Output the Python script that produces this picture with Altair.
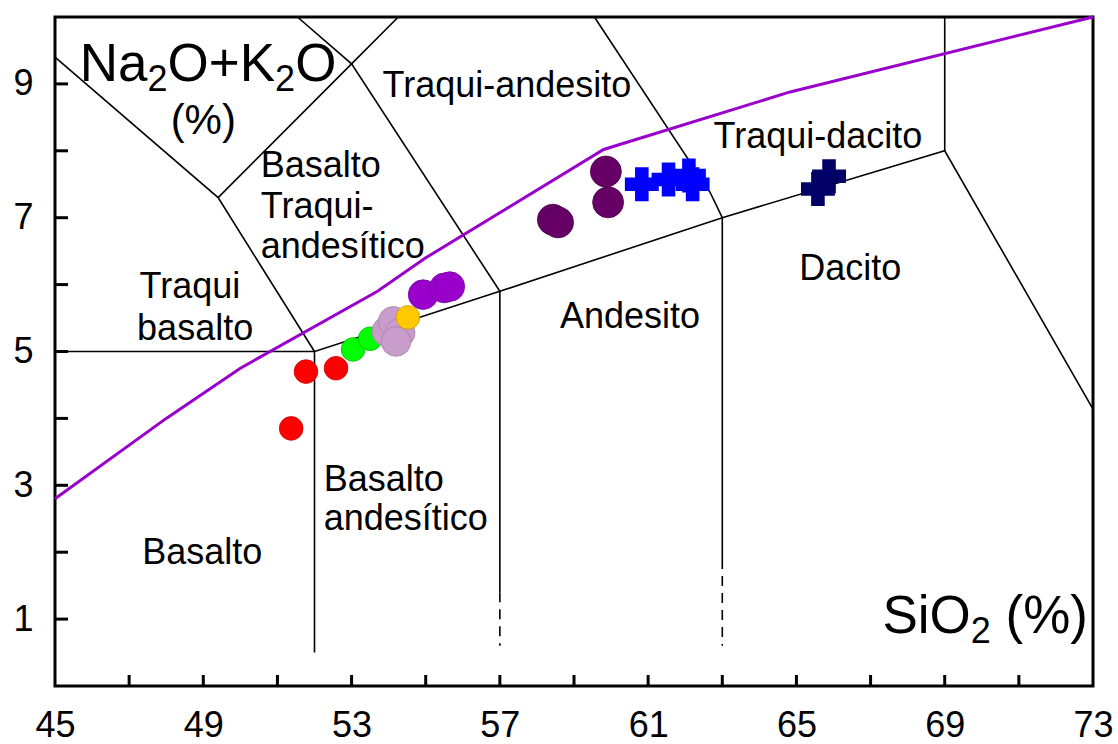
import altair as alt
import pandas as pd

FONT = "Liberation Sans"
W, H = 1038, 669

# ---------------- field boundaries (SiO2 %, Na2O+K2O %) ----------------
b_basalt_top = [(45, 5.0), (52, 5.0)]
b_main_lower = [(52, 0.5), (52, 5.0), (57, 5.9), (63, 7.0), (69, 8.0), (73, 4.14)]
b_57_solid = [(57, 5.9), (57, 1.4)]
b_63_solid = [(63, 7.0), (63, 1.9)]
b_69 = [(69, 8.0), (69, 10.0)]
b_tephrite = [(45, 9.4), (49.4, 7.3), (52, 5.0)]
b_bta_left = [(49.4, 7.3), (53, 9.3), (54.26, 10.0)]
b_ta_left = [(51.54, 10.0), (53, 9.3), (57, 5.9)]
b_td_left = [(59.55, 10.0), (62.67, 7.38), (63, 7.0)]
d_57 = [(57, 1.4), (57, 0.6)]
d_63 = [(63, 1.9), (63, 0.6)]

# alkaline / subalkaline divider
alk_x = [45, 48, 50, 53.7, 55, 59.8, 64.83, 73]
alk_y = [2.8, 4.0, 4.75, 5.9, 6.4, 8.02, 8.88, 10.0]

# ---------------- samples ----------------
red_x = [51.37, 51.77, 52.58]
red_y = [3.85, 4.70, 4.75]
green_x = [53.04, 53.50]
green_y = [5.03, 5.19]
lilac_x = [53.95, 54.12, 54.31, 54.20]
lilac_y = [5.30, 5.45, 5.28, 5.15]
gold_x = [54.52]
gold_y = [5.51]
violet_x = [54.93, 55.50, 55.65]
violet_y = [5.85, 5.95, 5.97]
plum_x = [58.43, 58.57, 59.86, 59.92]
plum_y = [6.97, 6.93, 7.69, 7.23]
blue_x = [60.83, 61.55, 62.10, 62.20]
blue_y = [7.50, 7.57, 7.63, 7.50]
navy_x = [65.58, 65.88]
navy_y = [7.43, 7.62]

# ---------------- labels ----------------
c_text = ["Traqui-andesito", "Traqui", "basalto", "Traqui-dacito", "Dacito", "Andesito", "Basalto"]
c_x = [57.19, 48.64, 48.78, 65.58, 66.45, 60.51, 48.97]
c_y = [8.97, 5.96, 5.33, 8.20, 6.23, 5.51, 1.99]
l_text = ["Basalto", "Traqui-", "andesítico", "Basalto", "andesítico"]
l_x = [50.55, 50.55, 50.55, 52.25, 52.25]
l_y = [7.78, 7.16, 6.56, 3.08, 2.49]

# axis titles, split into normal and subscript pieces (gap = leading space before the piece)
ytitle_parts = ["Na", "2", "O+K", "2", "O"]
ytitle_gaps = [0, 0, 0, 0, 0]
xtitle_parts = ["SiO", "2", "(%)"]
xtitle_gaps = [0, 0, 1]
ytitle_x, ytitle_y = 45.67, 9.04
ypct_x, ypct_y = 49.0, 8.25
xtitle_x, xtitle_y = 67.32, 0.79

x_tick_labels = [45, 49, 53, 57, 61, 65, 69, 73]
y_tick_labels = [1, 3, 5, 7, 9]
x_minor = list(range(47, 73, 2))
y_minor = list(range(1, 10))

xs = alt.Scale(domain=[45, 73], nice=False, zero=False)
ys = alt.Scale(domain=[0, 10], nice=False, zero=False)


def poly_df(polys):
    rows = []
    for k, p in enumerate(polys):
        for i, (x, y) in enumerate(p):
            rows.append({"id": k, "i": i, "x": x, "y": y})
    return pd.DataFrame(rows)


X = alt.X("x:Q", scale=xs, axis=alt.Axis(values=x_tick_labels, title=None, grid=False, domain=False,
                                           tickSize=0, labelFontSize=36, labelFont=FONT, labelColor="black",
                                           labelPadding=22, labelFlush=False, format="d"))
Y = alt.Y("y:Q", scale=ys, axis=alt.Axis(values=y_tick_labels, title=None, grid=False, domain=False,
                                           tickSize=0, labelFontSize=36, labelFont=FONT, labelColor="black",
                                           labelPadding=22, format="d"))
XS = alt.X("x:Q", scale=xs)
YS = alt.Y("y:Q", scale=ys)

solid = alt.Chart(poly_df([b_basalt_top, b_main_lower, b_57_solid, b_63_solid, b_69,
                           b_tephrite, b_bta_left, b_ta_left, b_td_left])).mark_line(
    color="black", strokeWidth=1.6).encode(x=X, y=Y, detail="id:N", order="i:Q")

dashed = alt.Chart(poly_df([d_57, d_63])).mark_line(
    color="black", strokeWidth=1.6, strokeDash=[10, 7]).encode(x=XS, y=YS, detail="id:N", order="i:Q")

alk = alt.Chart(pd.DataFrame({"x": alk_x, "y": alk_y, "i": range(len(alk_x))})).mark_line(
    color="#9900CC", strokeWidth=3).encode(x=XS, y=YS, order="i:Q")


def pts(xv, yv, fill, stroke, size, shape="circle", sw=0.8):
    return alt.Chart(pd.DataFrame({"x": xv, "y": yv})).mark_point(
        shape=shape, filled=True, fill=fill, color=fill, stroke=stroke, strokeWidth=sw,
        size=size, opacity=1).encode(x=XS, y=YS)


points = [
    pts(red_x, red_y, "#FF0000", "#CC0000", 560),
    pts(green_x, green_y, "#00FF00", "#00BB00", 560),
    pts(lilac_x, lilac_y, "#C89CCB", "#A880AA", 880),
    pts(violet_x, violet_y, "#9900CC", "#7A00A3", 880),
    pts(gold_x, gold_y, "#FFC800", "#CC9900", 560),
    pts(plum_x, plum_y, "#660066", "#4A004A", 960),
    pts(blue_x, blue_y, "#0000FF", "#0000FF", 1150, "cross", 0),
    pts(navy_x, navy_y, "#000066", "#000066", 1150, "cross", 0),
]

xt = alt.Chart(pd.DataFrame({"x": x_minor})).mark_rule(color="black", strokeWidth=3).encode(
    x=XS, y=alt.value(H - 11), y2=alt.value(H))
yt = alt.Chart(pd.DataFrame({"y": y_minor})).mark_rule(color="black", strokeWidth=3).encode(
    y=YS, x=alt.value(0), x2=alt.value(13))

ctext = alt.Chart(pd.DataFrame({"t": c_text, "x": c_x, "y": c_y})).mark_text(
    font=FONT, fontSize=36, align="center", baseline="middle", color="black").encode(
    x=XS, y=YS, text="t:N")
ltext = alt.Chart(pd.DataFrame({"t": l_text, "x": l_x, "y": l_y})).mark_text(
    font=FONT, fontSize=36, align="left", baseline="middle", color="black").encode(
    x=XS, y=YS, text="t:N")

# Arial / Liberation Sans advance widths (em) for composing sub-scripted titles
ADV = {"N": 0.722, "a": 0.556, "O": 0.778, "+": 0.584, "K": 0.667, "2": 0.556,
       "S": 0.667, "i": 0.222, "(": 0.333, "%": 0.889, ")": 0.333}
SPACE = 0.278
BIG, SUB, SUB_DROP = 53, 36, 10


def composed(parts, gaps, x0, y0):
    layers = []
    off = 0.0
    for p, g in zip(parts, gaps):
        sub = p == "2"
        fs = SUB if sub else BIG
        off += g * SPACE * fs
        layers.append(alt.Chart(pd.DataFrame({"t": [p], "x": [x0], "y": [y0]})).mark_text(
            font=FONT, fontSize=fs, align="left", baseline="alphabetic", color="black",
            dx=off, dy=SUB_DROP if sub else 0).encode(x=XS, y=YS, text="t:N"))
        off += sum(ADV[c] for c in p) * fs
    return layers


ytitle = composed(ytitle_parts, ytitle_gaps, ytitle_x, ytitle_y)
xtitle = composed(xtitle_parts, xtitle_gaps, xtitle_x, xtitle_y)
ypct = alt.Chart(pd.DataFrame({"t": ["(%)"], "x": [ypct_x], "y": [ypct_y]})).mark_text(
    font=FONT, fontSize=42, align="center", baseline="alphabetic", color="black").encode(
    x=XS, y=YS, text="t:N")

chart = alt.layer(solid, dashed, alk, xt, yt, *points, ctext, ltext, *ytitle, ypct, *xtitle).properties(
    width=W, height=H, autosize=alt.AutoSizeParams(type="none"),
    padding={"left": 55, "top": 17, "right": 25, "bottom": 58}, background="white"
).configure_view(stroke="black", strokeWidth=3)

chart.save("out.html", embed_options={"renderer": "svg", "actions": False})
